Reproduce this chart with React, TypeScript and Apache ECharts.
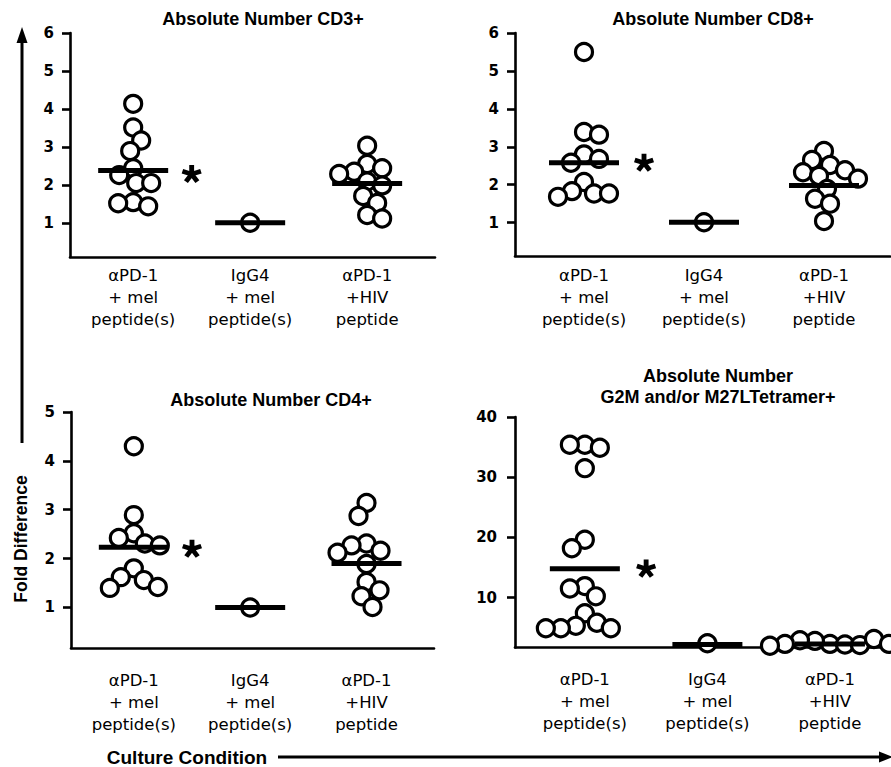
import React, { useEffect, useRef } from "react";
import * as echarts from "echarts";

// ---------- data ----------
const categories = [
  "αPD-1\n+ mel\npeptide(s)",
  "IgG4\n+ mel\npeptide(s)",
  "αPD-1\n+HIV\npeptide",
];
const panelTitles = [
  "Absolute Number CD3+",
  "Absolute Number CD8+",
  "Absolute Number CD4+",
  "Absolute Number\nG2M and/or M27LTetramer+",
];

const cd3Pd1Mel = [4.14, 3.52, 3.18, 2.9, 2.45, 2.27, 2.06, 2.06, 1.56, 1.53, 1.45];
const cd3IgG4 = [1.02];
const cd3Pd1Hiv = [3.04, 2.56, 2.45, 2.36, 2.3, 2.1, 2.0, 1.72, 1.54, 1.22, 1.13];
const cd3Means = [2.39, 1.02, 2.05];
const cd3Star = 2.3;
const cd3Ticks = [1, 2, 3, 4, 5, 6];

const cd8Pd1Mel = [5.5, 3.39, 3.32, 2.8, 2.68, 2.58, 2.07, 1.83, 1.77, 1.77, 1.68];
const cd8IgG4 = [1.01];
const cd8Pd1Hiv = [2.89, 2.65, 2.52, 2.38, 2.33, 2.23, 2.16, 1.89, 1.63, 1.5, 1.04];
const cd8Means = [2.58, 1.01, 1.98];
const cd8Star = 2.58;
const cd8Ticks = [1, 2, 3, 4, 5, 6];

const cd4Pd1Mel = [4.3, 2.89, 2.52, 2.42, 2.31, 2.27, 1.8, 1.62, 1.56, 1.42, 1.4];
const cd4IgG4 = [1.0];
const cd4Pd1Hiv = [3.14, 2.87, 2.31, 2.27, 2.16, 2.12, 1.89, 1.52, 1.35, 1.23, 1.01];
const cd4Means = [2.23, 1.0, 1.9];
const cd4Star = 2.2;
const cd4Ticks = [1, 2, 3, 4, 5];

const tetPd1Mel = [35.4, 35.4, 34.9, 31.5, 19.6, 18.2, 11.9, 11.5, 10.2, 7.4, 5.8, 5.3, 4.9, 4.9, 4.9];
const tetIgG4 = [2.4];
const tetPd1Hiv = [2.3, 2.8, 2.2, 2.9, 2.1, 3.1, 2.3, 2.3, 2.0];
const tetMeans = [14.8, 2.2, 2.3];
const tetStar = 14.8;
const tetTicks = [10, 20, 30, 40];

// ---------- layout ----------
const SYMBOL = 17;
const MIN_DIST = 15;

const panels = [
  {
    groups: [cd3Pd1Mel, cd3IgG4, cd3Pd1Hiv], means: cd3Means, star: cd3Star, ticks: cd3Ticks,
    title: panelTitles[0], titlePos: [263, 19],
    grid: { left: 70, top: 33, width: 365, height: 224 }, xr: [0.46, 3.58], yr: [0.12, 6],
    catMargin: 7, tickMargin: 16,
  },
  {
    groups: [cd8Pd1Mel, cd8IgG4, cd8Pd1Hiv], means: cd8Means, star: cd8Star, ticks: cd8Ticks,
    title: panelTitles[1], titlePos: [713, 19],
    grid: { left: 515, top: 33, width: 375, height: 223 }, xr: [0.425, 3.55], yr: [0.12, 6],
    catMargin: 8, tickMargin: 16,
  },
  {
    groups: [cd4Pd1Mel, cd4IgG4, cd4Pd1Hiv], means: cd4Means, star: cd4Star, ticks: cd4Ticks,
    title: panelTitles[2], titlePos: [271, 400],
    grid: { left: 71, top: 412, width: 363, height: 236 }, xr: [0.46, 3.58], yr: [0.17, 5],
    catMargin: 21, tickMargin: 16,
  },
  {
    groups: [tetPd1Mel, tetIgG4, tetPd1Hiv], means: tetMeans, star: tetStar, ticks: tetTicks,
    title: panelTitles[3], titlePos: [718, 386.5],
    grid: { left: 515, top: 417, width: 375, height: 230.5 }, xr: [0.43, 3.49], yr: [1.7, 40],
    catMargin: 21, tickMargin: 18,
  },
];

// simple beeswarm: offsets computed from the values in pixel space
function swarm(values: number[], center: number, pxX: number, pxY: number) {
  const placed: { x: number; y: number }[] = [];
  const out: number[][] = [];
  values.forEach((v, idx) => {
    const y = v * pxY;
    let chosen = 0;
    const sign = idx % 2 === 0 ? 1 : -1;
    for (let k = 0; k < 400; k++) {
      const step = Math.ceil(k / 2);
      const off = k === 0 ? 0 : (k % 2 === 1 ? step : -step) * sign;
      const ok = placed.every((p) => {
        const dx = p.x - off;
        const dy = p.y - y;
        return dx * dx + dy * dy >= MIN_DIST * MIN_DIST;
      });
      if (ok) {
        chosen = off;
        break;
      }
    }
    placed.push({ x: chosen, y });
    out.push([center + chosen / pxX, v]);
  });
  return out;
}

function asteriskPath() {
  const L = 10;
  const w = 2.5;
  let d = "";
  for (let k = 0; k < 5; k++) {
    const th = ((-90 + 72 * k) * Math.PI) / 180;
    const dx = Math.cos(th);
    const dy = Math.sin(th);
    const nx = -dy;
    const ny = dx;
    const sx = -dx * w;
    const sy = -dy * w;
    const pts = [
      [sx + nx * w, sy + ny * w],
      [dx * L + nx * w, dy * L + ny * w],
      [dx * L - nx * w, dy * L - ny * w],
      [sx - nx * w, sy - ny * w],
    ];
    d += "M" + pts.map((p) => p[0].toFixed(2) + " " + p[1].toFixed(2)).join(" L") + " Z ";
  }
  return "path://" + d;
}

function buildOption() {
  const grids: any[] = [];
  const xAxes: any[] = [];
  const yAxes: any[] = [];
  const series: any[] = [];
  const graphics: any[] = [];
  const star = asteriskPath();

  panels.forEach((p, i) => {
    grids.push({ ...p.grid, containLabel: false });
    const pxX = p.grid.width / (p.xr[1] - p.xr[0]);
    const pxY = p.grid.height / (p.yr[1] - p.yr[0]);
    xAxes.push({
      type: "value",
      gridIndex: i,
      min: p.xr[0],
      max: p.xr[1],
      axisLine: { show: true, onZero: false, lineStyle: { color: "#000", width: 2.6 } },
      axisTick: { show: false },
      splitLine: { show: false },
      axisLabel: {
        show: true,
        customValues: [1, 2, 3],
        formatter: (v: number) => categories[Math.round(v) - 1] || "",
        margin: p.catMargin,
        color: "#000",
        fontFamily: '"DejaVu Sans", sans-serif',
        fontSize: 16.5,
        lineHeight: 22,
        align: "center",
      },
    });
    yAxes.push({
      type: "value",
      gridIndex: i,
      min: p.yr[0],
      max: p.yr[1],
      axisLine: { show: true, onZero: false, lineStyle: { color: "#000", width: 2.6 } },
      axisTick: { show: true, length: 8, customValues: p.ticks, lineStyle: { color: "#000", width: 2.6 } },
      splitLine: { show: false },
      axisLabel: {
        show: true,
        customValues: p.ticks,
        margin: p.tickMargin,
        color: "#000",
        fontFamily: '"DejaVu Sans", sans-serif',
        fontWeight: "bold",
        fontSize: 15,
      },
    });
    const pts: number[][] = [];
    p.groups.forEach((g, gi) => {
      swarm(g, gi + 1, pxX, pxY).forEach((q) => pts.push(q));
    });
    series.push({
      type: "scatter",
      xAxisIndex: i,
      yAxisIndex: i,
      data: pts,
      symbol: "circle",
      symbolSize: SYMBOL,
      clip: false,
      silent: true,
      z: 2,
      itemStyle: { color: "#fff", borderColor: "#000", borderWidth: 3.2, opacity: 1 },
    });
    series.push({
      type: "scatter",
      xAxisIndex: i,
      yAxisIndex: i,
      data: p.means.map((m, mi) => [mi + 1, m]),
      symbol: "rect",
      symbolSize: [70, 5],
      clip: false,
      silent: true,
      z: 3,
      itemStyle: { color: "#000", opacity: 1 },
    });
    series.push({
      type: "scatter",
      xAxisIndex: i,
      yAxisIndex: i,
      data: [[1.5, p.star]],
      symbol: star,
      symbolSize: [20, 19],
      symbolKeepAspect: true,
      clip: false,
      silent: true,
      z: 3,
      itemStyle: { color: "#000", opacity: 1 },
    });
    graphics.push({
      type: "text",
      x: p.titlePos[0],
      y: p.titlePos[1],
      silent: true,
      style: {
        text: p.title,
        fill: "#000",
        fontFamily: '"Liberation Sans", Arial, sans-serif',
        fontWeight: "bold",
        fontSize: 18,
        lineHeight: 21,
        align: "center",
        verticalAlign: "middle",
      },
    });
  });

  // overall axis arrows and names
  graphics.push(
    { type: "line", silent: true, shape: { x1: 22, y1: 40, x2: 22, y2: 443 }, style: { stroke: "#000", lineWidth: 3 } },
    { type: "polygon", silent: true, shape: { points: [[22, 27], [16.5, 43], [27.5, 43]] }, style: { fill: "#000" } },
    { type: "line", silent: true, shape: { x1: 278, y1: 757, x2: 882, y2: 757 }, style: { stroke: "#000", lineWidth: 3 } },
    { type: "polygon", silent: true, shape: { points: [[893, 757], [879, 751.5], [879, 762.5]] }, style: { fill: "#000" } },
    {
      type: "text",
      x: 21,
      y: 539,
      rotation: Math.PI / 2,
      silent: true,
      style: {
        text: "Fold Difference",
        fill: "#000",
        fontFamily: '"Liberation Sans", Arial, sans-serif',
        fontWeight: "bold",
        fontSize: 17.5,
        align: "center",
        verticalAlign: "middle",
      },
    },
    {
      type: "text",
      x: 187,
      y: 757,
      silent: true,
      style: {
        text: "Culture Condition",
        fill: "#000",
        fontFamily: '"Liberation Sans", Arial, sans-serif',
        fontWeight: "bold",
        fontSize: 19,
        align: "center",
        verticalAlign: "middle",
      },
    }
  );

  return {
    animation: false,
    backgroundColor: "#fff",
    grid: grids,
    xAxis: xAxes,
    yAxis: yAxes,
    series,
    graphic: graphics,
  };
}

export default function App() {
  const ref = useRef<HTMLDivElement>(null);
  useEffect(() => {
    if (!ref.current) return;
    const chart = echarts.init(ref.current, null, { renderer: "svg" });
    chart.setOption(buildOption() as any);
    return () => chart.dispose();
  }, []);
  return (
    <div
      ref={ref}
      style={{ position: "fixed", left: 0, top: 0, width: 891, height: 767, background: "#fff" }}
    />
  );
}
